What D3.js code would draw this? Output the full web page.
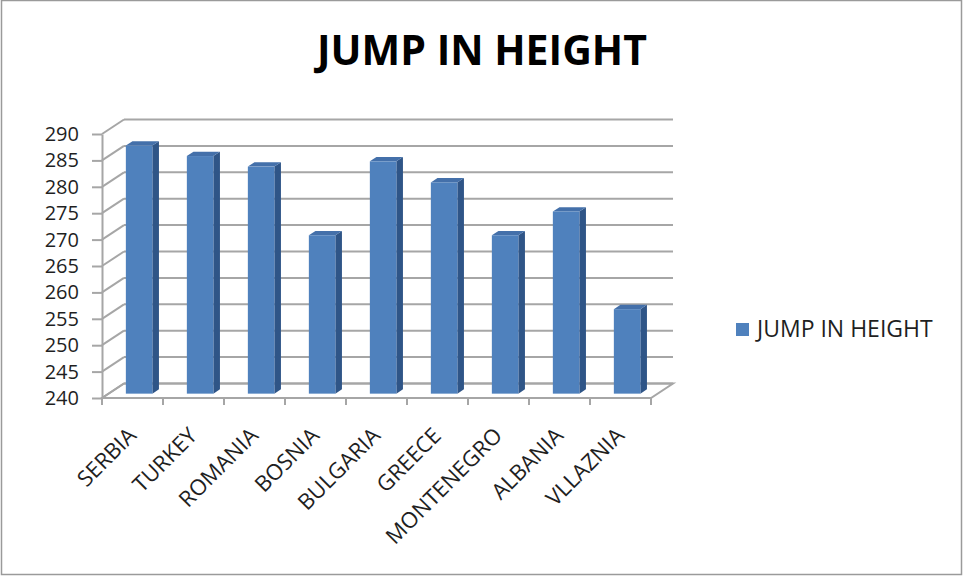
<!DOCTYPE html>
<html>
<head>
<meta charset="utf-8">
<script src="https://cdn.jsdelivr.net/npm/d3@7"></script>
<style>
  body { margin: 0; background: #ffffff; }
  svg { display: block; }
  text { font-family: "Open Sans", "Liberation Sans", sans-serif; }
</style>
</head>
<body>
<script>
// Jump-in-height results per team
const categories = ["SERBIA", "TURKEY", "ROMANIA", "BOSNIA", "BULGARIA", "GREECE", "MONTENEGRO", "ALBANIA", "VLLAZNIA"];
const jumpValues = [287, 285, 283, 270, 284, 280, 270, 274.5, 256];
const seriesName = "JUMP IN HEIGHT";
const yTicks = [240, 245, 250, 255, 260, 265, 270, 275, 280, 285, 290];

const W = 963, H = 577;
const svg = d3.select("body").append("svg").attr("width", W).attr("height", H);

// outer frame
svg.append("rect")
  .attr("x", 1.5).attr("y", 0.5).attr("width", 960).attr("height", 574)
  .attr("fill", "#ffffff").attr("stroke", "#9a9a9a").attr("stroke-width", 1.5);

// title
svg.append("text")
  .attr("x", 482).attr("y", 65)
  .attr("text-anchor", "middle")
  .attr("font-size", 41).attr("font-weight", 700)
  .attr("fill", "#000000")
  .text(seriesName);

// plot frame (front plane) and oblique depth offset
const plot = { left: 102, right: 651, top: 134, bottom: 398 };
const depth = { dx: 22, dy: -14.5 };
const gridColor = "#a6a6a6";

const x = d3.scaleBand().domain(categories).range([plot.left, plot.right]).padding(0);
const y = d3.scaleLinear().domain([yTicks[0], yTicks[yTicks.length - 1]]).range([plot.bottom, plot.top]);

const g = svg.append("g");

// floor
const base = y(yTicks[0]);
g.append("polygon")
  .attr("points", [
    [plot.left, base], [plot.right, base],
    [plot.right + depth.dx, base + depth.dy], [plot.left + depth.dx, base + depth.dy]
  ].map(p => p.join(",")).join(" "))
  .attr("fill", "#ffffff").attr("stroke", gridColor).attr("stroke-width", 2);

// back wall gridlines
g.selectAll("line.grid").data(yTicks).join("line")
  .attr("class", "grid")
  .attr("x1", plot.left + depth.dx).attr("x2", plot.right + depth.dx)
  .attr("y1", d => y(d) + depth.dy).attr("y2", d => y(d) + depth.dy)
  .attr("stroke", gridColor).attr("stroke-width", 2);

// side wall gridlines
g.selectAll("line.side").data(yTicks).join("line")
  .attr("class", "side")
  .attr("x1", plot.left).attr("x2", plot.left + depth.dx)
  .attr("y1", d => y(d)).attr("y2", d => y(d) + depth.dy)
  .attr("stroke", gridColor).attr("stroke-width", 2);

// value axis
const yAxis = g.append("g")
  .attr("transform", `translate(${plot.left},0)`)
  .call(d3.axisLeft(y).tickValues(yTicks).tickSize(10).tickSizeOuter(0).tickPadding(13).tickFormat(d3.format("d")));
yAxis.select(".domain").attr("stroke", gridColor).attr("stroke-width", 2);
yAxis.selectAll(".tick line").attr("stroke", gridColor).attr("stroke-width", 2);
yAxis.selectAll(".tick text")
  .attr("font-size", 20).attr("fill", "#1f1f1f")
  .attr("font-family", "\"Open Sans\", sans-serif");

// category axis tick marks at band boundaries
const boundaries = categories.map(c => x(c)).concat([plot.right]);
g.selectAll("line.xtick").data(boundaries).join("line")
  .attr("class", "xtick")
  .attr("x1", d => d).attr("x2", d => d)
  .attr("y1", base).attr("y2", base + 7)
  .attr("stroke", gridColor).attr("stroke-width", 2);

// category labels
g.selectAll("text.cat").data(categories).join("text")
  .attr("class", "cat")
  .attr("text-anchor", "end")
  .attr("font-size", 22).attr("fill", "#1f1f1f")
  .attr("transform", d => `translate(${x(d) + x.bandwidth() / 2 + 5},${base + 39}) rotate(-45)`)
  .text(d => d);

// 3D bars
const barW = 26.5, d0 = 0.3, f = 0.3;
const bars = g.selectAll("g.bar").data(categories.map((c, i) => ({ c, v: jumpValues[i] }))).join("g").attr("class", "bar");

function geom(d) {
  const x0 = x(d.c) + (x.bandwidth() - barW) / 2 + depth.dx * d0;
  const yb = base + depth.dy * d0;
  const yt = y(d.v) + depth.dy * d0;
  return { x0, x1: x0 + barW, yb, yt, ox: depth.dx * f, oy: depth.dy * f };
}
const pts = arr => arr.map(p => p.join(",")).join(" ");

bars.append("polygon")
  .attr("points", d => { const q = geom(d); return pts([[q.x1, q.yt], [q.x1 + q.ox, q.yt + q.oy], [q.x1 + q.ox, q.yb + q.oy], [q.x1, q.yb]]); })
  .attr("fill", "#2f5587");
bars.append("polygon")
  .attr("points", d => { const q = geom(d); return pts([[q.x0, q.yt], [q.x0 + q.ox, q.yt + q.oy], [q.x1 + q.ox, q.yt + q.oy], [q.x1, q.yt]]); })
  .attr("fill", "#4470aa");
bars.append("rect")
  .attr("x", d => geom(d).x0).attr("y", d => geom(d).yt)
  .attr("width", barW).attr("height", d => geom(d).yb - geom(d).yt)
  .attr("fill", "#4f81bd");

// legend
svg.append("rect").attr("x", 736).attr("y", 323).attr("width", 13).attr("height", 13).attr("fill", "#4f81bd");
svg.append("text").attr("x", 757).attr("y", 337)
  .attr("font-size", 23).attr("fill", "#1f1f1f")
  .text(seriesName);
</script>
</body>
</html>
